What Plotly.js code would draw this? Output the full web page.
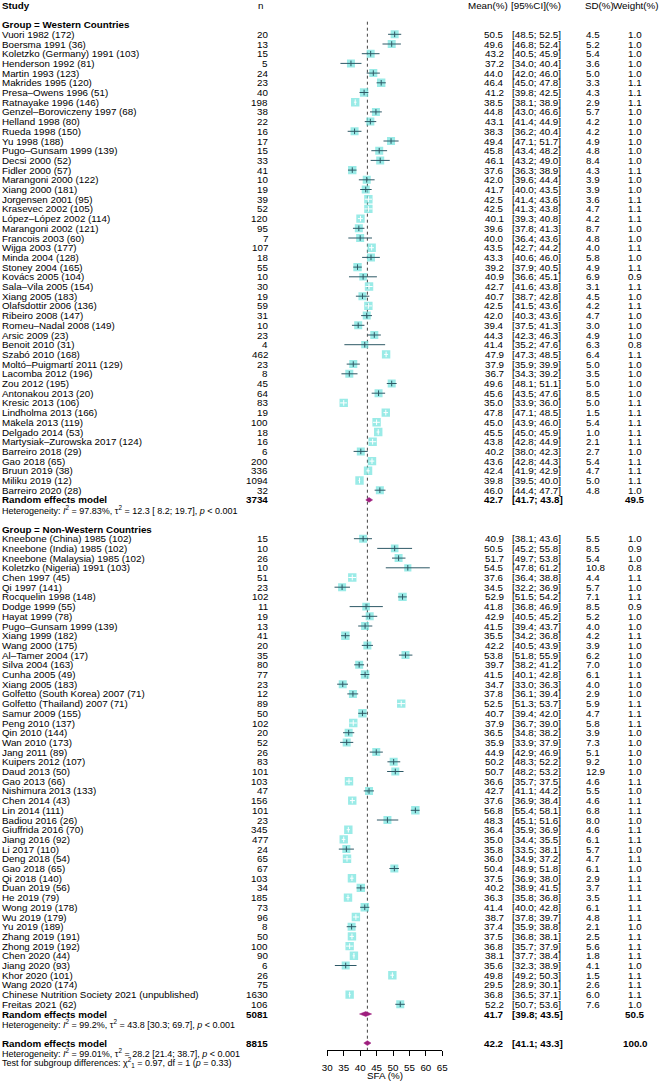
<!DOCTYPE html>
<html><head><meta charset="utf-8">
<script src="https://cdn.plot.ly/plotly-3.0.1.min.js"></script>
<style>html,body{margin:0;padding:0;background:#fff}</style>
</head><body><div id="chart" style="width:660px;height:1082px"></div>
<script>
// ---------------- DATA ----------------
const studiesW = ["Vuori 1982 (172)","Boersma 1991 (36)","Koletzko (Germany) 1991 (103)","Henderson 1992 (81)","Martin 1993 (123)","Makrides 1995 (120)","Presa\u2013Owens 1996 (51)","Ratnayake 1996 (146)","Genzel\u2013Boroviczeny 1997 (68)","Helland 1998 (80)","Rueda 1998 (150)","Yu 1998 (188)","Pugo\u2013Gunsam 1999 (139)","Decsi 2000 (52)","Fidler 2000 (57)","Marangoni 2000 (122)","Xiang 2000 (181)","Jorgensen 2001 (95)","Krasevec 2002 (105)","L\u00f3pez\u2013L\u00f3pez 2002 (114)","Marangoni 2002 (121)","Francois 2003 (60)","Wijga 2003 (177)","Minda 2004 (128)","Stoney 2004 (165)","Kov\u00e1cs 2005 (104)","Sala\u2013Vila 2005 (154)","Xiang 2005 (183)","Olafsdottir 2006 (136)","Ribeiro 2008 (147)","Romeu\u2013Nadal 2008 (149)","Arsic 2009 (23)","Benoit 2010 (31)","Szab\u00f3 2010 (168)","Molt\u00f3\u2013Puigmart\u00ed 2011 (129)","Lacomba 2012 (196)","Zou 2012 (195)","Antonakou 2013 (20)","Kresic 2013 (106)","Lindholma 2013 (166)","M\u00e4kel\u00e4 2013 (119)","Delgado 2014 (53)","Martysiak\u2013Zurowska 2017 (124)","Barreiro 2018 (29)","Gao 2018 (65)","Bruun 2019 (38)","Miliku 2019 (12)","Barreiro 2020 (28)"];
const nW = [20,13,15,5,24,23,40,198,38,22,16,17,15,33,41,10,19,39,52,120,95,7,107,18,55,10,30,19,59,31,10,23,4,462,23,8,45,64,83,19,100,18,16,6,200,336,1094,32];
const meanW = [50.5,49.6,43.2,37.2,44.0,46.4,41.2,38.5,44.8,43.1,38.3,49.4,45.8,46.1,37.6,42.0,41.7,42.5,42.5,40.1,39.6,40.0,43.5,43.3,39.2,40.9,42.7,40.7,42.5,42.0,39.4,44.3,41.4,47.9,37.9,36.7,49.6,45.6,35.0,47.8,45.0,45.5,43.8,40.2,43.6,42.4,39.8,46.0];
const loW = [48.5,46.8,40.5,34.0,42.0,45.0,39.8,38.1,43.0,41.4,36.2,47.1,43.4,43.2,36.3,39.6,40.0,41.4,41.3,39.3,37.8,36.4,42.7,40.6,37.9,36.6,41.6,38.7,41.5,40.3,37.5,42.3,35.2,47.3,35.9,34.3,48.1,43.5,33.9,47.1,43.9,45.0,42.8,38.0,42.8,41.9,39.5,44.4];
const hiW = [52.5,52.4,45.9,40.4,46.0,47.8,42.5,38.9,46.6,44.9,40.4,51.7,48.2,49.0,38.9,44.4,43.5,43.6,43.8,40.8,41.3,43.6,44.2,46.0,40.5,45.1,43.8,42.8,43.6,43.6,41.3,46.3,47.6,48.5,39.9,39.2,51.1,47.6,36.0,48.5,46.0,45.9,44.9,42.3,44.3,42.9,40.0,47.7];
const sdW = [4.5,5.2,5.4,3.6,5.0,3.3,4.3,2.9,5.7,4.2,4.2,4.9,4.8,8.4,4.3,3.9,3.9,3.6,4.7,4.2,8.7,4.8,4.0,5.8,4.9,6.9,3.1,4.5,4.2,4.7,3.0,4.9,6.3,6.4,5.0,3.5,5.0,8.5,5.0,1.5,5.4,1.0,2.1,2.7,5.4,4.7,5.0,4.8];
const wtW = [1.0,1.0,1.0,1.0,1.0,1.1,1.1,1.1,1.0,1.0,1.0,1.0,1.0,1.0,1.1,1.0,1.0,1.1,1.1,1.1,1.0,1.0,1.1,1.0,1.1,0.9,1.1,1.0,1.1,1.0,1.0,1.0,0.8,1.1,1.0,1.0,1.0,1.0,1.1,1.1,1.1,1.1,1.1,1.0,1.1,1.1,1.1,1.0];

const studiesNW = ["Kneebone (China) 1985 (102)","Kneebone (India) 1985 (102)","Kneebone (Malaysia) 1985 (102)","Koletzko (Nigeria) 1991 (103)","Chen 1997 (45)","Qi 1997 (141)","Rocquelin 1998 (148)","Dodge 1999 (55)","Hayat 1999 (78)","Pugo\u2013Gunsam 1999 (139)","Xiang 1999 (182)","Wang 2000 (175)","Al\u2013Tamer 2004 (17)","Silva 2004 (163)","Cunha 2005 (49)","Xiang 2005 (183)","Golfetto (South Korea) 2007 (71)","Golfetto (Thailand) 2007 (71)","Samur 2009 (155)","Peng 2010 (137)","Qin 2010 (144)","Wan 2010 (173)","Jang 2011 (89)","Kuipers 2012 (107)","Daud 2013 (50)","Gao 2013 (66)","Nishimura 2013 (133)","Chen 2014 (43)","Lin 2014 (111)","Badiou 2016 (26)","Giuffrida 2016 (70)","Jiang 2016 (92)","Li 2017 (110)","Deng 2018 (54)","Gao 2018 (65)","Qi 2018 (140)","Duan 2019 (56)","He 2019 (79)","Wong 2019 (178)","Wu 2019 (179)","Yu 2019 (189)","Zhang 2019 (191)","Zhong 2019 (192)","Chen 2020 (44)","Jiang 2020 (93)","Khor 2020 (101)","Wang 2020 (174)","Chinese Nutrition Society 2021 (unpublished)","Freitas 2021 (62)"];
const nNW = [15,10,26,10,51,23,102,11,19,13,41,20,35,80,77,23,12,89,50,102,20,52,26,83,101,103,47,156,101,23,345,477,24,65,67,103,34,185,73,96,8,50,100,90,6,26,75,1630,106];
const meanNW = [40.9,50.5,51.7,54.5,37.6,34.5,52.9,41.8,42.9,41.5,35.5,42.2,53.8,39.7,41.5,34.7,37.8,52.5,40.7,37.9,36.5,35.9,44.9,50.2,50.7,36.6,42.7,37.6,56.8,48.3,36.4,35.0,35.8,36.0,50.4,37.5,40.2,36.3,41.4,38.7,37.4,37.5,36.8,38.1,35.6,49.8,29.5,36.8,52.2];
const loNW = [38.1,45.2,49.7,47.8,36.4,32.2,51.5,36.8,40.5,39.4,34.2,40.5,51.8,38.2,40.1,33.0,36.1,51.3,39.4,36.7,34.8,33.9,42.9,48.3,48.2,35.7,41.1,36.9,55.4,45.1,35.9,34.4,33.5,34.9,48.9,36.9,38.9,35.8,40.0,37.8,35.9,36.8,35.7,37.7,32.3,49.2,28.9,36.5,50.7];
const hiNW = [43.6,55.8,53.8,61.2,38.8,36.9,54.2,46.9,45.2,43.7,36.8,43.9,55.9,41.2,42.8,36.3,39.4,53.7,42.0,39.0,38.2,37.9,46.9,52.2,53.2,37.5,44.2,38.4,58.1,51.6,36.9,35.5,38.1,37.2,51.8,38.0,41.5,36.8,42.8,39.7,38.8,38.1,37.9,38.4,38.9,50.3,30.1,37.1,53.6];
const sdNW = [5.5,8.5,5.4,10.8,4.4,5.7,7.1,8.5,5.2,4.0,4.2,3.9,6.2,7.0,6.1,4.0,2.9,5.9,4.7,5.8,3.9,7.3,5.1,9.2,12.9,4.6,5.5,4.6,6.8,8.0,4.6,6.1,5.7,4.7,6.1,2.9,3.7,3.5,6.1,4.8,2.1,2.5,5.6,1.8,4.1,1.5,2.6,6.0,7.6];
const wtNW = [1.0,0.9,1.0,0.8,1.1,1.0,1.1,0.9,1.0,1.0,1.1,1.0,1.0,1.0,1.1,1.0,1.0,1.1,1.1,1.1,1.0,1.0,1.0,1.0,1.0,1.1,1.0,1.1,1.1,1.0,1.1,1.1,1.0,1.1,1.0,1.1,1.1,1.1,1.1,1.1,1.0,1.1,1.1,1.1,1.0,1.1,1.1,1.1,1.0];

const groupLabels = ["Group = Western Countries", "Group = Non-Western Countries"];
const reLabel = "Random effects model";
const reN = [3734, 5081, 8815];          // Western, Non-Western, overall
const reMean = [42.7, 41.7, 42.2];
const reLo = [41.7, 39.8, 41.1];
const reHi = [43.8, 43.5, 43.3];
const reWeight = [49.5, 50.5, 100.0];
const hetI2 = ["97.83", "99.2", "99.01"];
const hetTau2 = [12.3, 43.8, 28.2];
const hetTauLo = [8.2, 30.3, 21.4];
const hetTauHi = [19.7, 69.7, 38.7];
const hetP = ["< 0.001", "< 0.001", "< 0.001"];
const subChi2 = 0.97, subDf = 1, subP = 0.33;
const headers = ["Study", "n", "Mean(%)", "[95%CI](%)", "SD(%)", "Weight(%)"];
const xTicks = [30, 35, 40, 45, 50, 55, 60, 65];
const xTitle = "SFA (%)";

// ---------------- LAYOUT CONSTANTS ----------------
const PW = 660, PH = 1082;
const ROW0 = 34.3, PITCH = 9.7, AXIS_Y = 1050;
const X0PX = 327.3, X1PX = 442.3;
const FONT = "Liberation Sans, Arial, Helvetica, sans-serif";
const FS = 9.8, FS_HET = 9.0;
const SQ = 8.4;
const SQ_COL = "#6FE2DD", CI_COL = "#2E5966", DIA_COL = "#9E1F7E";
const xMin = xTicks[0], xMax = xTicks[xTicks.length - 1];
const pxPerUnit = (X1PX - X0PX) / (xMax - xMin);
const kOf = px => (px - ROW0) / PITCH;

// rows
const rowHeader = -3, rowGrpW = -1;
const rowsW = studiesW.map((_, i) => i);
const rowReW = studiesW.length, rowHetW = rowReW + 1;
const rowGrpNW = rowHetW + 2;
const rowsNW = studiesNW.map((_, i) => rowGrpNW + 1 + i);
const rowReNW = rowGrpNW + 1 + studiesNW.length, rowHetNW = rowReNW + 1;
const rowReAll = rowHetNW + 2, rowHetAll = rowReAll + 1, rowTest = rowHetAll + 1;

// ---------------- TRACES ----------------
const allMean = meanW.concat(meanNW), allLo = loW.concat(loNW), allHi = hiW.concat(hiNW);
const allWt = wtW.concat(wtNW), allRows = rowsW.concat(rowsNW);
const maxWt = Math.max(...allWt);
const vis = allMean.map(m => m >= xMin && m <= xMax);
const sizes = allWt.map(w => SQ * Math.sqrt(w / maxWt));

const sqX = [], sqY = [], sqS = [];
const darkX = [], darkY = [], whiteX = [], whiteY = [];
const tickDX = [], tickDY = [], tickWX = [], tickWY = [];
allMean.forEach((m, i) => {
  if (!vis[i]) return;
  sqX.push(m); sqY.push(allRows[i]); sqS.push(sizes[i]);
  const inside = (allHi[i] - allLo[i]) * pxPerUnit <= sizes[i];
  if (inside) {
    whiteX.push(allLo[i], allHi[i], null); whiteY.push(allRows[i], allRows[i], null);
    tickWX.push(m); tickWY.push(allRows[i]);
  } else {
    darkX.push(allLo[i], allHi[i], null); darkY.push(allRows[i], allRows[i], null);
    tickDX.push(m); tickDY.push(allRows[i]);
  }
});

const traces = [
  {type: "scatter", mode: "markers", x: sqX, y: sqY, hoverinfo: "skip",
   marker: {symbol: "square", size: sqS, color: SQ_COL, line: {width: 0}}},
  {type: "scatter", mode: "lines", x: darkX, y: darkY, hoverinfo: "skip",
   line: {color: CI_COL, width: 1}},
  {type: "scatter", mode: "lines", x: whiteX, y: whiteY, hoverinfo: "skip",
   line: {color: "#ffffff", width: 1}},
  {type: "scatter", mode: "markers", x: tickDX, y: tickDY, hoverinfo: "skip",
   marker: {symbol: "line-ns", size: 4, line: {color: CI_COL, width: 1}}},
  {type: "scatter", mode: "markers", x: tickWX, y: tickWY, hoverinfo: "skip",
   marker: {symbol: "line-ns", size: 4, line: {color: "#ffffff", width: 1}}}
];
const diaRows = [rowReW, rowReNW, rowReAll];
const DH = 0.25;
diaRows.forEach((r, i) => {
  traces.push({type: "scatter", mode: "lines", fill: "toself", hoverinfo: "skip",
    x: [reLo[i], reMean[i], reHi[i], reMean[i], reLo[i]],
    y: [r, r - DH, r, r + DH, r],
    fillcolor: DIA_COL, line: {color: DIA_COL, width: 0.5}});
});

// ---------------- TEXT ----------------
const COL = {study: 2, n: 268, nHead: 260.5, mean: 504, meanHead: 507.5, ci: 512, ciHead: 511,
             sd: 585.5, sdHead: 585, wt: 635, wtHead: 636};
const anns = [];
function txt(text, px, row, anchor, bold, size) {
  anns.push({text: bold ? "<b>" + text + "</b>" : text, x: px / PW, xref: "paper",
    y: row, yref: "y", xanchor: anchor, yanchor: "middle", showarrow: false,
    borderpad: 0, borderwidth: 0, font: {family: FONT, size: size || FS, color: "#000"}});
}
const f1 = v => v.toFixed(1);
const ci = (l, h) => "[" + f1(l).padStart(4, " ") + "; " + f1(h) + "]";

txt(headers[0], COL.study, rowHeader, "left", true);
txt(headers[1], COL.nHead, rowHeader, "center", false);
txt(headers[2], COL.meanHead, rowHeader, "right", false);
txt(headers[3], COL.ciHead, rowHeader, "left", false);
txt(headers[4], COL.sdHead, rowHeader, "left", false);
txt(headers[5], COL.wtHead, rowHeader, "center", false);

txt(groupLabels[0], COL.study, rowGrpW, "left", true);
txt(groupLabels[1], COL.study, rowGrpNW, "left", true);

function studyRows(names, ns, means, los, his, sds, wts, rows) {
  names.forEach((s, i) => {
    const r = rows[i];
    txt(s, COL.study, r, "left", false);
    txt(String(ns[i]), COL.n, r, "right", false);
    txt(f1(means[i]), COL.mean, r, "right", false);
    txt(ci(los[i], his[i]), COL.ci, r, "left", false);
    txt(f1(sds[i]), COL.sd, r, "left", false);
    txt(f1(wts[i]), COL.wt, r, "center", false);
  });
}
studyRows(studiesW, nW, meanW, loW, hiW, sdW, wtW, rowsW);
studyRows(studiesNW, nNW, meanNW, loNW, hiNW, sdNW, wtNW, rowsNW);

const hetRows = [rowHetW, rowHetNW, rowHetAll];
diaRows.forEach((r, i) => {
  txt(reLabel, COL.study, r, "left", true);
  txt(String(reN[i]), COL.n, r, "right", true);
  txt(f1(reMean[i]), COL.mean, r, "right", true);
  txt(ci(reLo[i], reHi[i]), COL.ci, r, "left", true);
  txt(f1(reWeight[i]), COL.wt, r, "center", true);
  const het = "Heterogeneity: <i>I</i><sup>2</sup> = " + hetI2[i] + "%, \u03c4<sup>2</sup> = " + f1(hetTau2[i]) +
    " " + ci(hetTauLo[i], hetTauHi[i]) + ", <i>p</i> " + hetP[i].replace("<", "&lt;");
  txt(het, COL.study, hetRows[i], "left", false, FS_HET);
});
txt("Test for subgroup differences: \u03c7<sup>2</sup><sub>" + subDf + "</sub> = " + subChi2.toFixed(2) +
    ", df = " + subDf + " (<i>p</i> = " + subP.toFixed(2) + ")", COL.study, rowTest, "left", false, FS_HET);

// axis title
anns.push({text: xTitle, x: (xMin + xMax) / 2, xref: "x", y: kOf(1075.5), yref: "y",
  xanchor: "center", yanchor: "middle", showarrow: false, borderpad: 0,
  font: {family: FONT, size: FS, color: "#000"}});

const layout = {
  width: PW, height: PH, margin: {l: 0, r: 0, t: 0, b: 0},
  paper_bgcolor: "#fff", plot_bgcolor: "rgba(0,0,0,0)", showlegend: false, hovermode: false,
  font: {family: FONT, size: FS, color: "#000"},
  xaxis: {domain: [X0PX / PW, X1PX / PW], range: [xMin, xMax], anchor: "free", position: 1 - AXIS_Y / PH,
    showline: true, linecolor: "#000", linewidth: 1, ticks: "outside", ticklen: 5, tickwidth: 1,
    tickcolor: "#000", tickmode: "array", tickvals: xTicks, ticktext: xTicks.map(String), ticklabelstandoff: 3,
    tickfont: {family: FONT, size: FS, color: "#000"}, showgrid: false, zeroline: false, fixedrange: true},
  yaxis: {domain: [0, 1], range: [kOf(PH), kOf(0)], visible: false, showgrid: false, zeroline: false, fixedrange: true},
  shapes: [{type: "line", xref: "x", yref: "y", x0: reMean[2], x1: reMean[2], y0: rowGrpW - 0.3, y1: kOf(AXIS_Y),
    line: {color: "#444", width: 1, dash: "dot"}, layer: "below"}],
  annotations: anns
};
Plotly.newPlot("chart", traces, layout, {staticPlot: true, displayModeBar: false});
</script></body></html>
